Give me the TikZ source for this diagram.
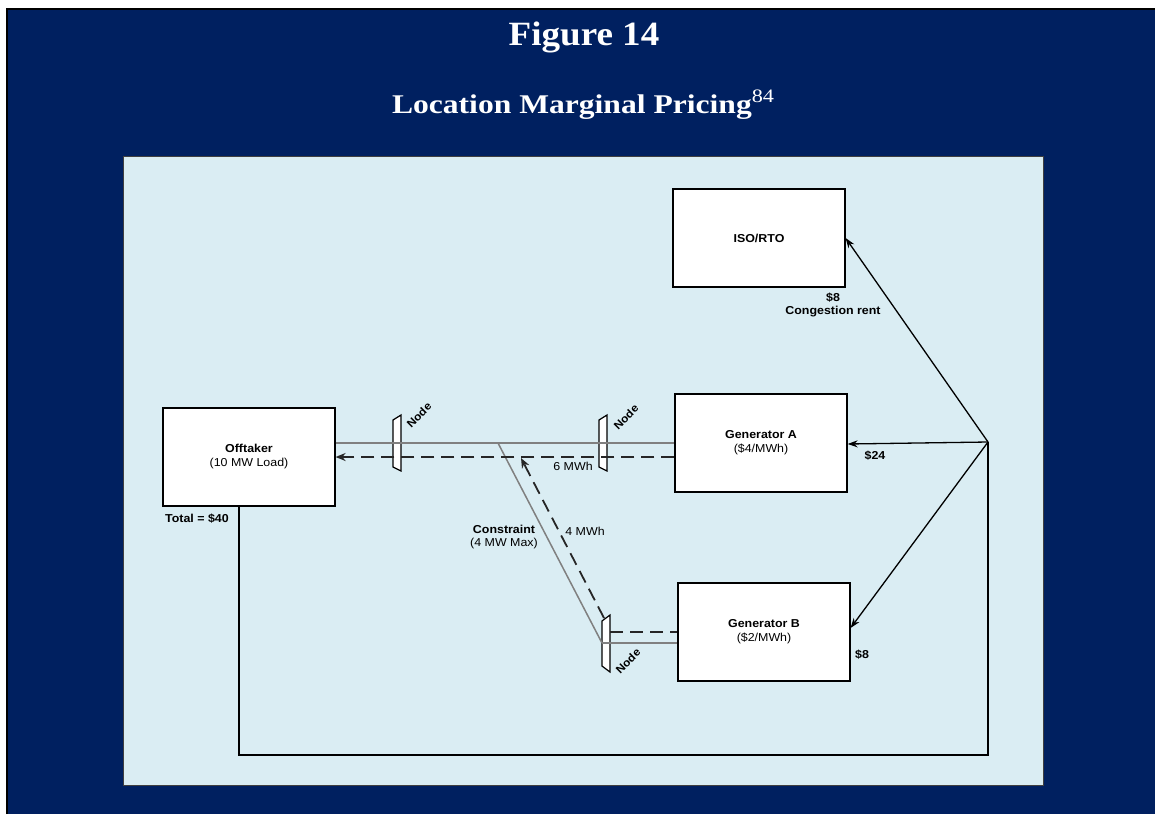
\documentclass[tikz,border=0pt]{standalone}
\usepackage{fontspec}
\setmainfont{Liberation Serif}
\setsansfont{Liberation Sans}[FakeStretch=1.08]
\usetikzlibrary{positioning,arrows.meta}

\definecolor{navy}{RGB}{0,32,96}
\definecolor{panelblue}{RGB}{218,237,243}
\definecolor{linegray}{RGB}{128,128,128}

\tikzset{
  box/.style={draw, fill=white, line width=1.2pt, minimum width=172pt, minimum height=98pt,
    align=center, font=\sffamily\fontsize{11.5}{14}\selectfont},
  lbl/.style={font=\sffamily\bfseries\fontsize{11.5}{13.5}\selectfont, align=center, inner sep=0pt},
  txt/.style={font=\sffamily\fontsize{11.5}{13.5}\selectfont, align=center, inner sep=0pt},
  grayline/.style={draw=linegray, line width=1.5pt},
  flow/.style={-{Stealth[length=10pt,width=8pt]}, dash pattern=on 13pt off 7pt, line width=1.8pt, draw=black!85},
  pay/.style={-{Stealth[length=10pt,width=7pt]}, line width=1.3pt},
  nodebar/.style={draw, fill=white, line width=1.2pt},
  nodelbl/.style={font=\sffamily\bfseries\fontsize{11}{11}\selectfont, rotate=45, inner sep=0pt},
}

\begin{document}
\begin{tikzpicture}[x=1pt,y=-1pt]
  \useasboundingbox (0,0) rectangle (1155,814);
  % frame
  \fill[navy] (7,9) rectangle (1155,814);
  \draw[line width=2pt] (7,814) -- (7,9) -- (1155,9);
  \draw[fill=panelblue, draw=black!75, line width=1pt] (123,156) rectangle (1043,785);

  % title
  \node[font=\bfseries\fontsize{34}{34}\selectfont, text=white, anchor=base] (fig) at (584,45)
    {\scalebox{1.09}[1]{Figure 14}};
  \node[font=\bfseries\fontsize{27}{27}\selectfont, text=white, anchor=base] (ttl) at (583,113)
    {\scalebox{1.17}[1]{Location Marginal Pricing\raisebox{11pt}{\fontsize{19}{19}\selectfont\mdseries 84}}};

  % boxes
  \node[box] (iso) at (759,238) {\textbf{ISO/RTO}};
  \node[box] (off) at (249,457) {\textbf{Offtaker}\\(10 MW Load)};
  \node[box] (genA) at (761,443) {\textbf{Generator A}\\(\$4/MWh)};
  \node[box] (genB) at (764,632) {\textbf{Generator B}\\(\$2/MWh)};

  % node bars
  \draw[nodebar] (393,420) -- (401,415) -- (401,471) -- (393,467) -- cycle;
  \draw[nodebar] (599,420) -- (607,415) -- (607,471) -- (599,467) -- cycle;
  \draw[nodebar] (602,621) -- (610,615) -- (610,672) -- (602,666) -- cycle;
  \node[nodelbl] (nL) at (419,415) {Node};
  \node[nodelbl] (nA) at (626,417) {Node};
  \node[nodelbl] (nB) at (628,661) {Node};

  % wires
  \coordinate (split) at (498,443);
  \coordinate (barB) at (602,643);
  \draw[grayline] (off.east |- genA.west) -- (genA.west);
  \draw[grayline] (split) -- (barB);
  \draw[grayline] (barB) -- (barB -| genB.west);

  % energy flows
  \coordinate (fB) at (604,618);
  \coordinate (fM) at (521,458);
  \coordinate (fBr) at (610,632);
  \draw[flow] (genA.west |- off.east) -- (off.east);
  \draw[flow] (fB) -- (fM);
  \draw[flow, -] (fBr) -- (genB.west);

  % payments
  \coordinate (hub) at (988,442);
  \coordinate (loop) at (239,755);
  \draw[pay] (hub) -- (iso.east);
  \draw[pay] (hub) -- ([yshift=-1pt]genA.east);
  \draw[pay] (hub) -- ([yshift=4pt]genB.east);
  \draw[line width=1.3pt] (hub) |- (loop) -- (loop |- off.south);

  % labels
  \node[lbl] (rent) at (833,305) {\$8\\Congestion rent};
  \node[lbl] (payA) at (875,456) {\$24};
  \node[lbl] (payB) at (862,655) {\$8};
  \node[lbl] (total) at (197,519) {Total = \$40};
  \node[txt] (sixmw) at (573,466) {6 MWh};
  \node[txt] (fourmw) at (585,531) {4 MWh};
  \node[txt] (cons) at (504,537) {\textbf{Constraint}\\(4 MW Max)};
\end{tikzpicture}
\end{document}
